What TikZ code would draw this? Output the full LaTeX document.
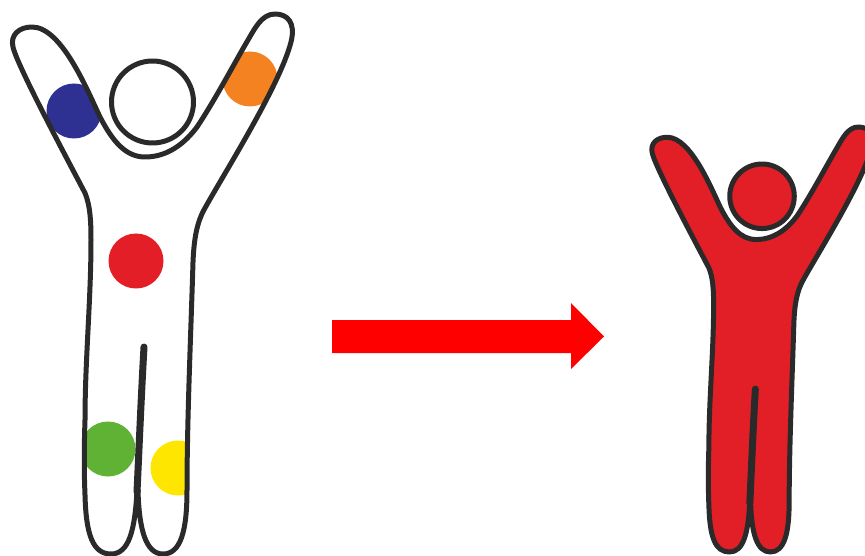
\documentclass[tikz,border=0pt]{standalone}
\definecolor{PersonRed}{HTML}{E21F26}
\definecolor{PersonLine}{HTML}{2B2A2B}
\definecolor{DotBlue}{HTML}{2E3192}
\definecolor{DotOrange}{HTML}{F58220}
\definecolor{DotRed}{HTML}{E31E26}
\definecolor{DotGreen}{HTML}{5FB233}
\definecolor{DotYellow}{HTML}{FFE600}
\newcommand{\personpath}{(138,490)
  .. controls (139,530) and (146,554) .. (163,554)
  .. controls (181,554) and (187,530) .. (187,490)
  .. controls (187,420) and (191,330) .. (193,262)
  .. controls (194,238) and (197,222) .. (205,208)
  .. controls (225,172) and (280,85) .. (291,42)
  .. controls (296,22) and (287,14) .. (275,14)
  .. controls (262,14) and (255,28) .. (248,40)
  .. controls (235,62) and (215,100) .. (197,127)
  .. controls (185,143) and (168,157) .. (145,157)
  .. controls (125,157) and (112,140) .. (100,117)
  .. controls (88,92) and (62,27) .. (32,27)
  .. controls (19,27) and (10,35) .. (13,47)
  .. controls (17,65) and (65,155) .. (85,193)
  .. controls (90,205) and (91,220) .. (91,240)
  .. controls (91,300) and (85,360) .. (85,420)
  .. controls (84,450) and (84,470) .. (85,495)
  .. controls (86,535) and (93,554) .. (111,554)
  .. controls (129,554) and (135,530) .. (137,490) -- cycle}
\begin{document}
\begin{tikzpicture}[
  x=1pt, y=-1pt,
  outline/.style={draw=PersonLine, line width=5pt, line join=round},
  slit/.style={draw=PersonLine, line width=7pt, line cap=round},
  dot/.style={radius=27.5}
]
\useasboundingbox (0,0) rectangle (865,556);
% colored figure
\begin{scope}
  \clip \personpath;
  \fill[DotBlue, dot] (74,111) circle;
  \fill[DotOrange, dot] (250,79) circle;
  \fill[DotRed, dot] (136,261) circle;
  \fill[DotGreen, dot] (108,449) circle;
  \fill[DotYellow, dot] (178,468) circle;
\end{scope}
\draw[outline] \personpath;
\draw[slit] (144,347) .. controls (141,400) and (139,450) .. (137,492);
\draw[outline] (152.5,102) circle[radius=41];
% arrow
\fill[red] (332,320) -- (571,320) -- (571,303) -- (604,336.5) -- (571,369) -- (571,353) -- (332,353) -- cycle;
% red figure
\begin{scope}[shift={(642,116)}, scale=0.787]
  \draw[outline, fill=PersonRed] \personpath;
  \draw[slit] (144,347) .. controls (141,400) and (139,450) .. (137,492);
  \draw[outline, fill=PersonRed] (152.5,102) circle[radius=41];
\end{scope}
\end{tikzpicture}
\end{document}
